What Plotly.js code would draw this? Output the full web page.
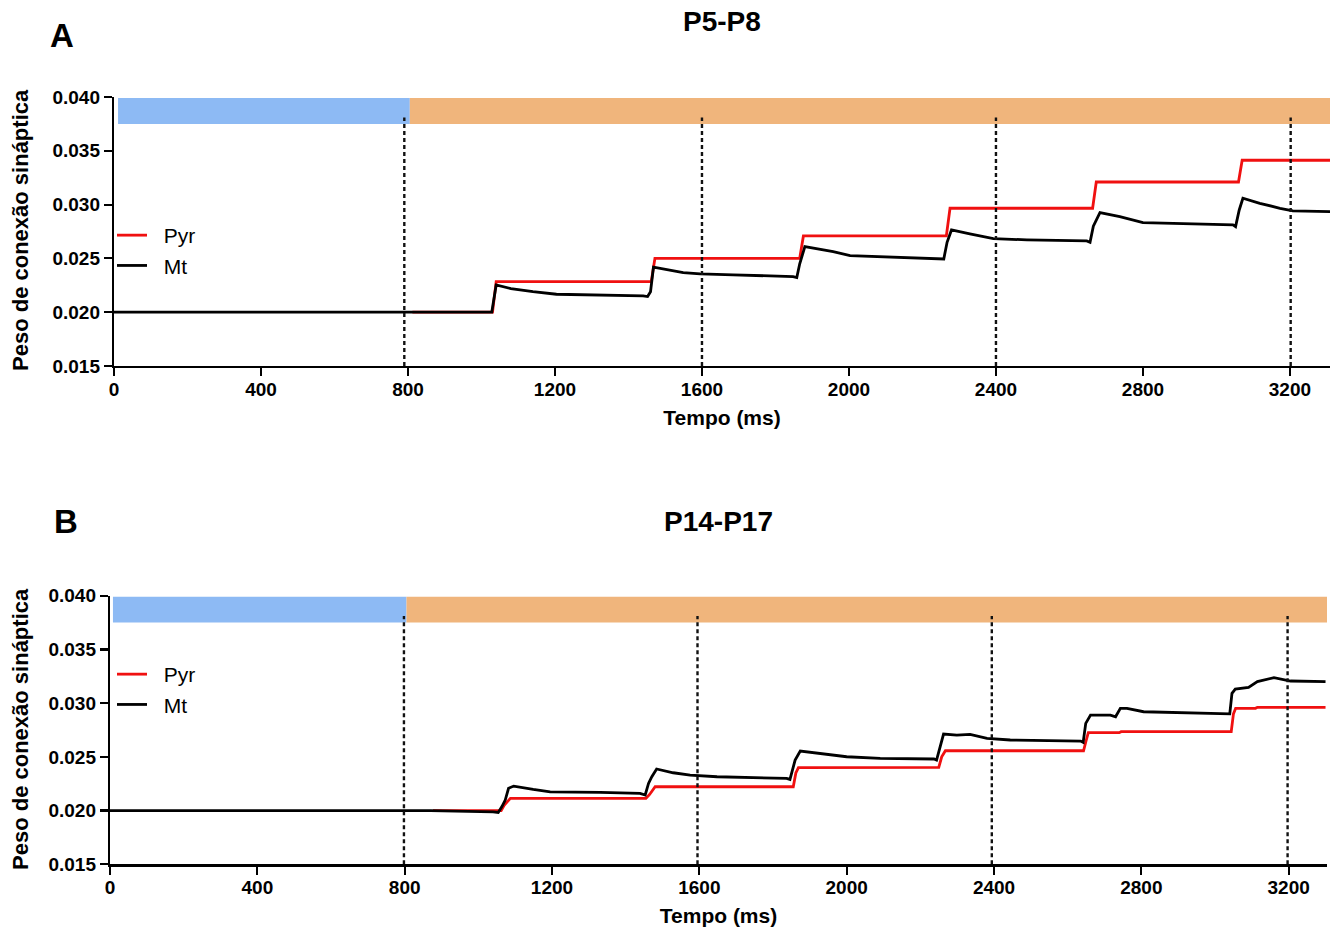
<!DOCTYPE html>
<html><head><meta charset="utf-8">
<script src="https://cdn.plot.ly/plotly-3.0.1.min.js"></script>
<style>html,body{margin:0;padding:0;background:#fff}#chart{width:1340px;height:930px}</style>
</head><body><div id="chart"></div>
<script>
// ---------- data ----------
const seriesNames = ['Pyr', 'Mt'];
const panelLetters = ['A', 'B'];
const panelTitles = ['P5-P8', 'P14-P17'];
const xTitle = 'Tempo (ms)';
const yTitle = 'Peso de conexão sináptica';
const xTickVals = [0, 400, 800, 1200, 1600, 2000, 2400, 2800, 3200];
const yTickVals = [0.015, 0.020, 0.025, 0.030, 0.035, 0.040];

// Panel A (P5-P8)
const aPyrT = [812, 1030, 1040, 1462, 1472, 1866, 1876, 2265, 2275, 2663, 2673, 3060, 3070, 3309];
const aPyrW = [0.0200, 0.0200, 0.02284, 0.02284, 0.02501, 0.02501, 0.02709, 0.02709, 0.02966, 0.02966, 0.0321, 0.0321, 0.03412, 0.03412];
const aMtT = [0, 1028, 1040, 1080, 1140, 1204, 1440, 1452, 1460, 1468, 1549, 1595, 1685, 1848, 1858, 1866, 1880, 1957, 2003, 2084, 2252, 2258, 2267, 2279, 2329, 2393, 2484, 2647, 2656, 2665, 2683, 2737, 2800, 2936, 3045, 3052, 3062, 3072, 3118, 3173, 3208, 3309];
const aMtW = [0.0200, 0.0200, 0.02253, 0.0222, 0.02191, 0.02167, 0.02151, 0.02145, 0.0219, 0.02418, 0.02368, 0.02356, 0.02347, 0.02331, 0.02322, 0.0245, 0.02609, 0.02563, 0.02526, 0.02517, 0.02501, 0.02495, 0.0265, 0.02764, 0.02727, 0.02684, 0.02672, 0.02662, 0.0265, 0.028, 0.02925, 0.02888, 0.02832, 0.0282, 0.02811, 0.02795, 0.0295, 0.03059, 0.03012, 0.02966, 0.02941, 0.02934];
const aDashT = [790, 1600, 2400, 3202];
const aBlue = [11, 805];
const aOrange = [805, 3330];

// Panel B (P14-P17)
const bPyrT = [877, 1062, 1070, 1087, 1455, 1465, 1480, 1855, 1862, 1869, 2250, 2258, 2268, 2643, 2650, 2656, 2740, 2745, 3044, 3050, 3056, 3110, 3115, 3300];
const bPyrW = [0.0200, 0.0200, 0.0205, 0.02114, 0.02114, 0.0215, 0.02222, 0.02222, 0.0235, 0.0240, 0.02402, 0.0250, 0.02557, 0.02557, 0.0265, 0.02725, 0.02725, 0.02734, 0.02734, 0.029, 0.02952, 0.02952, 0.02961, 0.02961];
const bMtT = [0, 870, 1040, 1054, 1064, 1073, 1082, 1096, 1149, 1195, 1331, 1439, 1453, 1462, 1471, 1484, 1529, 1575, 1648, 1837, 1846, 1860, 1874, 1919, 2000, 2091, 2237, 2244, 2254, 2263, 2299, 2335, 2381, 2444, 2635, 2642, 2649, 2662, 2716, 2730, 2743, 2761, 2806, 2941, 3033, 3040, 3046, 3055, 3091, 3115, 3160, 3205, 3300];
const bMtW = [0.0200, 0.0200, 0.01988, 0.01983, 0.02037, 0.02098, 0.02207, 0.02228, 0.02197, 0.02175, 0.02169, 0.0216, 0.02145, 0.02253, 0.02315, 0.02387, 0.02352, 0.0233, 0.02315, 0.023, 0.0229, 0.0247, 0.02554, 0.02533, 0.02501, 0.02486, 0.0248, 0.0247, 0.02594, 0.02712, 0.02703, 0.0271, 0.02672, 0.02657, 0.02647, 0.02635, 0.02812, 0.02889, 0.02889, 0.02873, 0.02952, 0.02952, 0.0292, 0.02911, 0.02905, 0.029, 0.03091, 0.03131, 0.03147, 0.032, 0.03237, 0.03206, 0.032];
const bDashT = [798, 1595, 2394, 3197];
const bBlue = [8, 805];
const bOrange = [805, 3330];

const barBand = [0.0375, 0.0399];
const dashTop = 0.0381;

// ---------- styling ----------
const FONT = 'Arial, "Liberation Sans", sans-serif';
const RED = '#f01010';
const BLACK = '#000000';
const BLUE = '#8dbaf4';
const ORANGE = '#f0b57c';
const W = 1340, H = 930;
const PAD = '\u00a0\u00a0';

function lineTrace(x, y, name, color, xa, ya, legend, group) {
  return {
    type: 'scatter', mode: 'lines', x: x, y: y, name: PAD + name,
    xaxis: xa, yaxis: ya, legend: legend, legendgroup: group,
    line: {color: color, width: 2.8}, hoverinfo: 'x+y'
  };
}

const data = [
  lineTrace(aPyrT, aPyrW, seriesNames[0], RED, 'x', 'y', 'legend', 'g1'),
  lineTrace(aMtT, aMtW, seriesNames[1], BLACK, 'x', 'y', 'legend', 'g2'),
  lineTrace(bPyrT, bPyrW, seriesNames[0], RED, 'x2', 'y2', 'legend2', 'g1'),
  lineTrace(bMtT, bMtW, seriesNames[1], BLACK, 'x2', 'y2', 'legend2', 'g2')
];

function panelShapes(xr, yr, blue, orange, dashes) {
  const s = [];
  s.push({type: 'rect', xref: xr, yref: yr, x0: blue[0], x1: blue[1], y0: barBand[0], y1: barBand[1], fillcolor: BLUE, line: {width: 0}, layer: 'below'});
  s.push({type: 'rect', xref: xr, yref: yr, x0: orange[0], x1: orange[1], y0: barBand[0], y1: barBand[1], fillcolor: ORANGE, line: {width: 0}, layer: 'below'});
  dashes.forEach(t => s.push({type: 'line', xref: xr, yref: yr, x0: t, x1: t, y0: 0.015, y1: dashTop, line: {color: '#111', width: 2.4, dash: '4px,3px'}, layer: 'above'}));
  return s;
}

function xAxis(domain, range, anchor) {
  return {
    domain: domain, range: range, anchor: anchor,
    showline: true, linecolor: '#000', linewidth: 2.2,
    ticks: 'outside', ticklen: 8, tickwidth: 2.2, tickcolor: '#000',
    tickvals: xTickVals, showgrid: false, zeroline: false,
    ticklabelstandoff: -3,
    tickfont: {family: FONT, size: 19, color: '#000', weight: 'bold'},
    title: {text: xTitle, font: {family: FONT, size: 21, color: '#000', weight: 'bold'}, standoff: 11},
    fixedrange: true
  };
}
function yAxis(domain, anchor) {
  return {
    domain: domain, range: [0.015, 0.040], anchor: anchor,
    showline: true, linecolor: '#000', linewidth: 2.2,
    ticks: 'outside', ticklen: 8, tickwidth: 2.2, tickcolor: '#000',
    tickvals: yTickVals, tickformat: '.3f', showgrid: false, zeroline: false,
    tickfont: {family: FONT, size: 19, color: '#000', weight: 'bold'},
    fixedrange: true
  };
}

const px = v => v / W;
const py = v => 1 - v / H;

function ann(text, x, y, size, extra) {
  return Object.assign({text: text, xref: 'paper', yref: 'paper', x: px(x), y: py(y), showarrow: false,
    xanchor: 'center', yanchor: 'middle', font: {family: FONT, size: size, color: '#000', weight: 'bold'}}, extra || {});
}

const legendStyle = {
  font: {family: FONT, size: 21, color: '#000'}, bgcolor: 'rgba(0,0,0,0)',
  traceorder: 'grouped', tracegroupgap: 0, xanchor: 'left', yanchor: 'top'
};

const layout = {
  width: W, height: H,
  margin: {l: 0, r: 0, t: 0, b: 0},
  paper_bgcolor: '#fff', plot_bgcolor: 'rgba(0,0,0,0)',
  showlegend: true,
  xaxis: xAxis([px(114), px(1330)], [0, 3309], 'y'),
  yaxis: yAxis([py(366), py(97)], 'x'),
  xaxis2: xAxis([px(110), px(1327)], [0, 3304], 'y2'),
  yaxis2: yAxis([py(864.3), py(595.7)], 'x2'),
  legend: Object.assign({x: px(112), y: py(215)}, legendStyle),
  legend2: Object.assign({x: px(112), y: py(654)}, legendStyle),
  shapes: panelShapes('x', 'y', aBlue, aOrange, aDashT).concat(panelShapes('x2', 'y2', bBlue, bOrange, bDashT)),
  annotations: [
    ann(panelLetters[0], 62, 36, 33),
    ann(panelTitles[0], 722, 21, 28),
    ann(panelLetters[1], 66, 521, 33),
    ann(panelTitles[1], 718, 521, 28),
    ann(yTitle, 20, 230, 22, {textangle: -90}),
    ann(yTitle, 20, 729, 22, {textangle: -90})
  ]
};

Plotly.newPlot('chart', data, layout, {displayModeBar: false, staticPlot: true});
</script>
</body></html>
